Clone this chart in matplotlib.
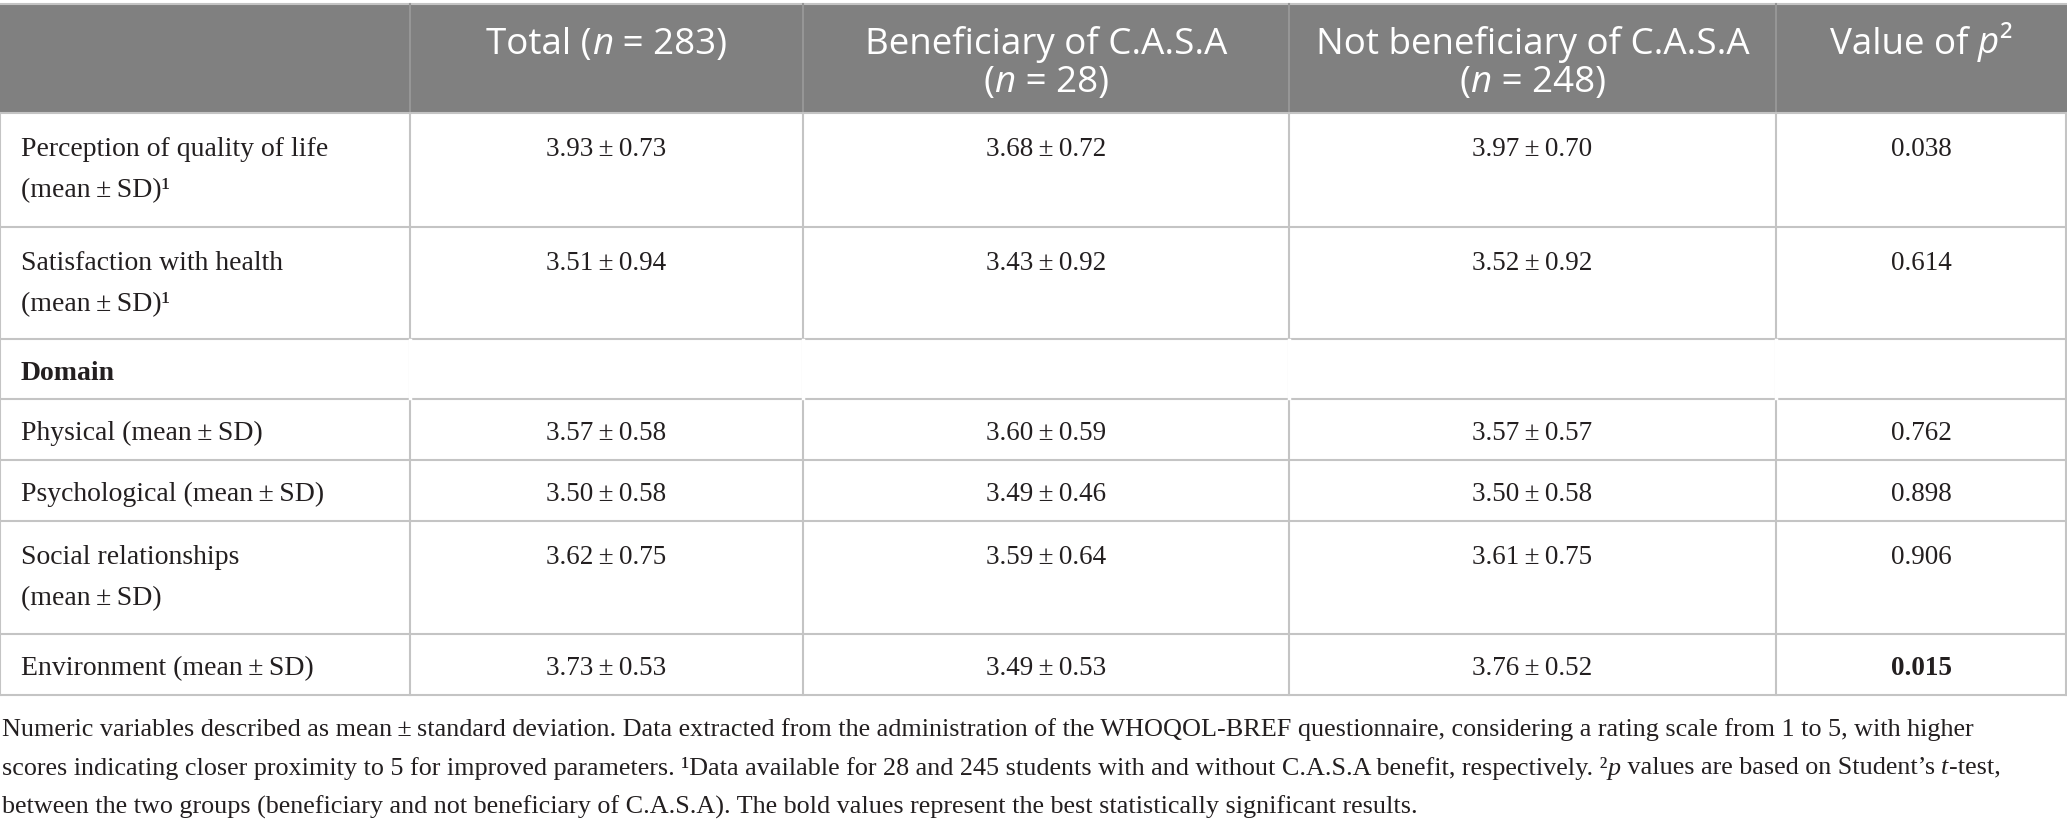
import matplotlib
matplotlib.use('Agg')
import matplotlib.pyplot as plt
from matplotlib.patches import Rectangle

# table content
header = [
    [],
    [[('Total (', ''), ('n', 'i'), (' = 283)', '')]],
    [[('Beneficiary of C.A.S.A', '')], [('(', ''), ('n', 'i'), (' = 28)', '')]],
    [[('Not beneficiary of C.A.S.A', '')], [('(', ''), ('n', 'i'), (' = 248)', '')]],
    [[('Value of ', ''), ('p', 'i'), ('²', '')]],
]
row_labels = ['Perception of quality of life\n(mean\u2009±\u2009SD)¹',
              'Satisfaction with health\n(mean\u2009±\u2009SD)¹',
              'Domain',
              'Physical (mean\u2009±\u2009SD)',
              'Psychological (mean\u2009±\u2009SD)',
              'Social relationships\n(mean\u2009±\u2009SD)',
              'Environment (mean\u2009±\u2009SD)']
section_rows = ['Domain']

total_mean = [3.93, 3.51, 3.57, 3.50, 3.62, 3.73]
total_sd = [0.73, 0.94, 0.58, 0.58, 0.75, 0.53]
ben_mean = [3.68, 3.43, 3.60, 3.49, 3.59, 3.49]
ben_sd = [0.72, 0.92, 0.59, 0.46, 0.64, 0.53]
notben_mean = [3.97, 3.52, 3.57, 3.50, 3.61, 3.76]
notben_sd = [0.70, 0.92, 0.57, 0.58, 0.75, 0.52]
p_values = ['0.038', '0.614', '0.762', '0.898', '0.906', '0.015']
p_bold = [False, False, False, False, False, True]

footnote = [
    [('Numeric variables described as mean\u2009±\u2009standard deviation. Data extracted from the administration of the '
      'WHOQOL-BREF questionnaire, considering a rating scale from 1 to 5, with higher', '')],
    [('scores indicating closer proximity to 5 for improved parameters. ¹Data available for 28 and 245 students with '
      'and without C.A.S.A benefit, respectively. ²', ''), ('p', 'i'), (' values are based on Student\u2019s ', ''),
     ('t', 'i'), ('-test,', '')],
    [('between the two groups (beneficiary and not beneficiary of C.A.S.A). The bold values represent the best '
      'statistically significant results.', '')],
]

# layout (pixels)
W, H = 2067, 821
col_x = [0, 410, 803, 1289, 1776, 2066]
head_top, head_bot = 4, 113
row_edges = [113, 227, 339, 399, 460, 521, 634, 695]
foot_y = [727, 766, 805]

head_col = '#808080'
line_col = '#c4c4c4'
txt_col = '#231f20'
sans = 'Open Sans'
serif = 'Liberation Serif'
fs_head = 26.5
fs_label = 20
fs_val = 19.5
fs_foot = 18.8

fig = plt.figure(figsize=(W / 100, H / 100), dpi=100)
ax = fig.add_axes([0, 0, 1, 1])
ax.set_xlim(0, W)
ax.set_ylim(H, 0)
ax.axis('off')
renderer = fig.canvas.get_renderer()


def style_kw(s, family, size, color):
    kw = dict(family=family, fontsize=size, color=color)
    if 'i' in s:
        kw['style'] = 'italic'
    if 'b' in s:
        kw['weight'] = 'bold'
    return kw


def draw_runs(x, y, runs, family, size, color, ha='center'):
    widths = []
    for txt, s in runs:
        t = ax.text(0, 0, txt, **style_kw(s, family, size, color))
        widths.append(t.get_window_extent(renderer).width)
        t.remove()
    total = sum(widths)
    x0 = x - total / 2 if ha == 'center' else x
    for (txt, s), w in zip(runs, widths):
        ax.text(x0, y, txt, ha='left', va='center_baseline', **style_kw(s, family, size, color))
        x0 += w


# header
ax.add_patch(Rectangle((0, head_top), W, head_bot - head_top, color=head_col, lw=0))
ax.plot([0, W], [head_top, head_top], color=line_col, lw=1.5)
for i, lines in enumerate(header):
    cx = (col_x[i] + col_x[i + 1]) / 2
    for j, runs in enumerate(lines):
        draw_runs(cx, 40 + 38 * j, runs, sans, fs_head, 'white')

# grid
for y in row_edges:
    ax.plot([0, W], [y, y], color=line_col, lw=1.5)
for i, x in enumerate(col_x):
    if 0 < i < len(col_x) - 1:
        ax.plot([x, x], [head_top, head_bot], color='#969696', lw=1.5)
    ax.plot([x, x], [head_bot, row_edges[-1]], color=line_col, lw=1.5)
    if 0 < i < len(col_x) - 1:
        ax.plot([x, x], [row_edges[2] + 1, row_edges[3] - 1], color='white', lw=2.5)

# body
k = 0
for r, label in enumerate(row_labels):
    top, bot = row_edges[r], row_edges[r + 1]
    multi = '\n' in label
    y1 = top + 34 if multi else (top + bot) / 2 + 1
    if label in section_rows:
        ax.text(21, y1, label, ha='left', va='center_baseline', fontsize=fs_label, family=serif,
                weight='bold', color=txt_col)
        continue
    for j, part in enumerate(label.split('\n')):
        ax.text(21, y1 + 41 * j, part, ha='left', va='center_baseline', fontsize=fs_label,
                family=serif, color=txt_col)
    cells = ['%.2f\u2009±\u2009%.2f' % (total_mean[k], total_sd[k]),
             '%.2f\u2009±\u2009%.2f' % (ben_mean[k], ben_sd[k]),
             '%.2f\u2009±\u2009%.2f' % (notben_mean[k], notben_sd[k]),
             p_values[k]]
    for c, cell in enumerate(cells):
        cx = (col_x[c + 1] + col_x[c + 2]) / 2
        bold = c == 3 and p_bold[k]
        ax.text(cx, y1, cell, ha='center', va='center_baseline', fontsize=fs_val, family=serif,
                weight='bold' if bold else 'normal', color=txt_col)
    k += 1

# footnote
for y, runs in zip(foot_y, footnote):
    draw_runs(2, y, runs, serif, fs_foot, txt_col, ha='left')

fig.savefig('out.png', dpi=100)
